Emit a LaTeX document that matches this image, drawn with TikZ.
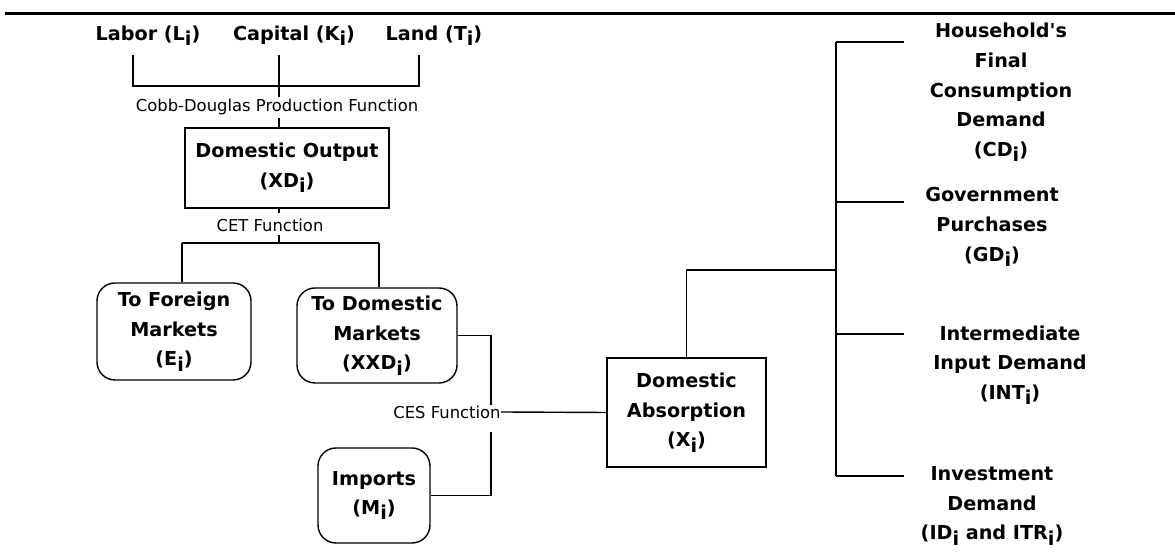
\documentclass[tikz,border=0pt]{standalone}
\usepackage{fontspec}
\setmainfont{DejaVu Sans}
\newcommand{\sbi}{\raisebox{-0.5ex}{i}}

\begin{document}
\begin{tikzpicture}[
  x=0.5pt, y=-0.5pt,
  every node/.style={inner sep=0pt, align=center},
  txt_big/.style={font=\fontsize{9.6}{14.8}\selectfont\bfseries},
  txt_fn/.style={font=\fontsize{8.2}{10}\selectfont},
  block_out/.style={rectangle, draw, line width=1.1pt, txt_big,
    minimum width=102pt, minimum height=40pt},
  block_mkt/.style={rectangle, draw, rounded corners=9pt, line width=0.7pt, txt_big},
  block_abs/.style={rectangle, draw, line width=0.8pt, txt_big,
    minimum width=79.5pt, minimum height=54.5pt},
  line/.style={draw, line width=0.7pt, -}
  ]
\useasboundingbox (0,0) rectangle (1175,560);

\draw [line width=1.5pt] (5,13.5) -- (1175,13.5);

% factors of production
\node [txt_big] (labor) at (148,36) {Labor (L\sbi)};
\node [txt_big] (capital) at (294,36) {Capital (K\sbi)};
\node [txt_big] (land) at (434,36) {Land (T\sbi)};
\node [txt_fn] (cobb) at (277,107) {Cobb-Douglas Production Function};

\node [block_out] (output) at (287,168) {Domestic Output\\(XD\sbi)};
\node [txt_fn] (cet) at (270,225) {CET Function};

\node [block_mkt, minimum width=77pt, minimum height=48.5pt] (foreign) at (174,331.5)
  {To Foreign\\Markets\\(E\sbi)};
\node [block_mkt, minimum width=80pt, minimum height=47.5pt] (dommkt) at (377,335.5)
  {To Domestic\\Markets\\(XXD\sbi)};
\node [block_mkt, minimum width=56pt, minimum height=47.5pt] (imports) at (374,495.5)
  {Imports\\(M\sbi)};
\node [txt_fn, anchor=east] (ces) at (501,412) {CES Function};

\node [block_abs] (absorb) at (686.5,412.5) {Domestic\\Absorption\\(X\sbi)};

% final demand
\node [txt_big] (house) at (1001,92.5)
  {Household\textquotesingle s\\Final\\Consumption\\Demand\\(CD\sbi)};
\node [txt_big] (govt) at (992,227) {Government\\Purchases\\(GD\sbi)};
\node [txt_big] (inter) at (1010,365) {Intermediate\\Input Demand\\(INT\sbi)};
\node [txt_big] (invest) at (992,506) {Investment\\Demand\\(ID\sbi{} and ITR\sbi)};

\coordinate (labor_ft) at (133,55);
\coordinate (capital_ft) at (279,55);
\coordinate (land_ft) at (419,55);
\coordinate (cobb_top) at (279,97);
\coordinate (cobb_bot) at (279,118);
\coordinate (cet_top) at (279,213);
\coordinate (cet_bot) at (279,235);
\coordinate (cet_fork) at (279,243);
\coordinate (ces_top) at (491,405);
\coordinate (ces_bot) at (491,432);
\coordinate (trunk_top) at (836,42);
\coordinate (trunk_bot) at (836,476);

\path [line] (labor_ft) |- (land_ft |- 0,86) -- (land_ft);
\path [line] (capital_ft) -- (cobb_top);
\path [line] (cobb_bot) -- (cobb_bot |- output.north);
\path [line] (cet_top |- output.south) -- (cet_top);
\path [line] (cet_bot) -- (cet_fork);
\path [line] (182,243) -- (379,243);
\path [line] (182,243) -- (182,243 |- foreign.north);
\path [line] (379,243) -- (379,243 |- dommkt.north);

\path [line] (dommkt.east) -| (ces_top);
\path [line] (ces_bot) |- (imports.east);
\path [line] (ces.east) -- (absorb.west);

\path [line] (absorb.north) |- (836,270);
\path [line] (trunk_top) -- (trunk_bot);
\path [line] (trunk_top) -- (904,42);
\path [line] (836,202) -- (904,202);
\path [line] (836,334) -- (904,334);
\path [line] (trunk_bot) -- (904,476);

\end{tikzpicture}
\end{document}
